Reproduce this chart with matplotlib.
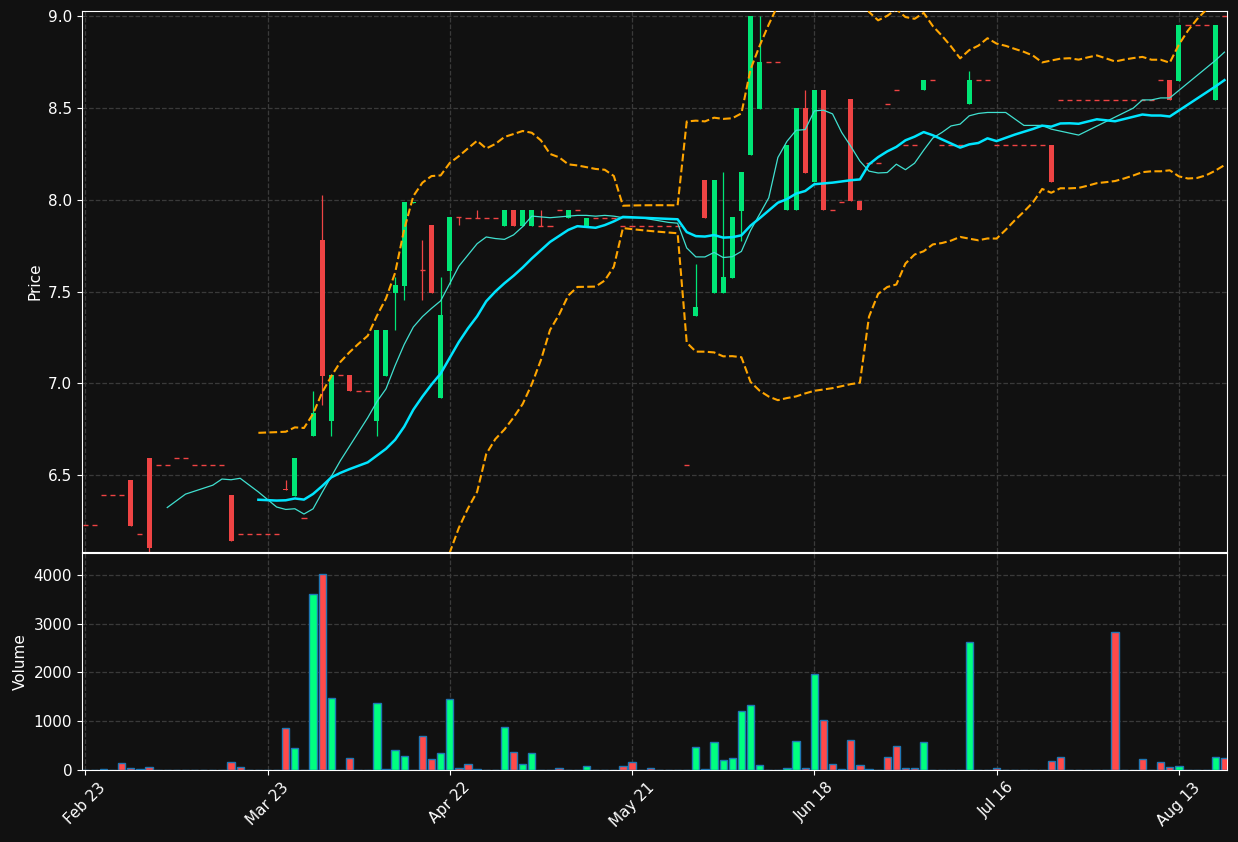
import matplotlib
matplotlib.use("Agg")
import matplotlib.pyplot as plt
import numpy as np
import pandas as pd

# ---------------------------------------------------------------------------
# Data (one entry per trading day)
# ---------------------------------------------------------------------------

opens = [
    6.225, 6.225, 6.39, 6.39, 6.39, 6.474, 6.18, 6.59, 6.553, 6.553,
    6.59, 6.59, 6.553, 6.553, 6.553, 6.553, 6.392, 6.18, 6.18, 6.18,
    6.18, 6.18, 6.425, 6.386, 6.265, 6.714, 7.78, 6.795, 7.045, 7.045,
    6.96, 6.96, 6.795, 7.042, 7.494, 7.532, 7.985, 7.617, 7.862, 6.917,
    7.614, 7.905, 7.903, 7.903, 7.903, 7.903, 7.86, 7.945, 7.86, 7.86,
    7.86, 7.86, 7.945, 7.903, 7.945, 7.86, 7.903, 7.903, 7.903, 7.86,
    7.86, 7.86, 7.86, 7.86, 7.86, 7.86, 6.553, 7.367, 8.108, 7.494,
    7.494, 7.574, 7.94, 8.246, 8.496, 8.75, 8.75, 7.945, 7.945, 8.50,
    8.095, 8.60, 7.946, 7.99, 8.549, 7.994, 8.2, 8.2, 8.524, 8.60,
    8.30, 8.30, 8.60, 8.653, 8.30, 8.30, 8.30, 8.524, 8.653, 8.653,
    8.30, 8.30, 8.30, 8.30, 8.30, 8.30, 8.30, 8.545, 8.545, 8.545,
    8.545, 8.545, 8.545, 8.545, 8.545, 8.545, 8.545, 8.545, 8.653, 8.653,
    8.648, 8.953, 8.953, 8.953, 8.545, 9.0,
]
closes = [
    6.225, 6.225, 6.39, 6.39, 6.39, 6.22, 6.18, 6.10, 6.553, 6.553,
    6.59, 6.59, 6.553, 6.553, 6.553, 6.553, 6.142, 6.18, 6.18, 6.18,
    6.18, 6.18, 6.42, 6.591, 6.265, 6.837, 7.042, 7.045, 7.045, 6.96,
    6.96, 6.96, 7.29, 7.29, 7.536, 7.989, 7.99, 7.615, 7.494, 7.371,
    7.905, 7.904, 7.903, 7.903, 7.903, 7.903, 7.945, 7.86, 7.945, 7.945,
    7.86, 7.86, 7.945, 7.945, 7.945, 7.903, 7.903, 7.903, 7.903, 7.86,
    7.86, 7.86, 7.86, 7.86, 7.86, 7.86, 6.553, 7.415, 7.90, 8.108,
    7.58, 7.905, 8.15, 9.0, 8.75, 8.75, 8.75, 8.30, 8.50, 8.146,
    8.60, 7.945, 7.946, 7.99, 7.994, 7.945, 8.2, 8.2, 8.524, 8.60,
    8.30, 8.30, 8.653, 8.653, 8.30, 8.30, 8.30, 8.653, 8.653, 8.653,
    8.30, 8.30, 8.30, 8.30, 8.30, 8.30, 8.097, 8.545, 8.545, 8.545,
    8.545, 8.545, 8.545, 8.545, 8.545, 8.545, 8.545, 8.545, 8.653, 8.545,
    8.953, 8.953, 8.953, 8.953, 8.953, 9.0,
]
# wicks that stick out of the body (index -> price)
wick_highs = {22: 6.47, 25: 6.96, 26: 8.025, 34: 7.58, 37: 7.78, 39: 7.58,
              43: 7.945, 50: 7.945, 67: 7.65, 70: 8.15, 74: 9.0, 79: 8.60, 97: 8.70}
wick_lows = {7: 6.08, 26: 6.88, 27: 6.714, 32: 6.714, 34: 7.29, 35: 7.453,
             37: 7.453, 40: 7.54, 41: 7.862, 72: 7.773}

volumes = [
    0, 0, 20, 0, 150, 40, 20, 60, 0, 0,
    0, 0, 0, 0, 0, 0, 165, 60, 0, 0,
    0, 0, 860, 450, 10, 3600, 4030, 1480, 0, 250,
    0, 0, 1380, 20, 420, 280, 0, 700, 230, 340,
    1450, 40, 123, 20, 0, 0, 880, 360, 120, 340,
    0, 0, 40, 0, 0, 85, 0, 0, 0, 85,
    170, 10, 40, 0, 10, 0, 10, 480, 20, 570,
    210, 250, 1220, 1340, 105, 0, 0, 40, 590, 40,
    1960, 1030, 125, 20, 610, 105, 20, 0, 275, 485,
    40, 40, 570, 0, 0, 0, 0, 2620, 0, 0,
    40, 0, 0, 0, 0, 0, 190, 275, 0, 0,
    0, 0, 0, 2830, 0, 0, 230, 0, 170, 60,
    85, 0, 0, 0, 275, 250,
]

tick_labels = ["Feb 23", "Mar 23", "Apr 22", "May 21", "Jun 18", "Jul 16", "Aug 13"]
TICK_EVERY = 20

# ---------------------------------------------------------------------------
# Derived series
# ---------------------------------------------------------------------------

o = np.array(opens)
c = np.array(closes)
v = np.array(volumes)
x = np.arange(len(c))
hi = np.maximum(o, c)
lo = np.minimum(o, c)
for i, val in wick_highs.items():
    hi[i] = val
for i, val in wick_lows.items():
    lo[i] = val

s = pd.Series(c)
ma10 = s.rolling(10).mean()
ma20 = s.rolling(20).mean()
sd20 = s.rolling(20).std()
upper = ma20 + 2 * sd20
lower = ma20 - 2 * sd20

up = c > o
CANDLE_UP, CANDLE_DN = "#00e676", "#ef4444"
VOL_UP, VOL_DN = "#00ff80", "#ff4a4a"
BG = "#111111"

# ---------------------------------------------------------------------------
# Figure
# ---------------------------------------------------------------------------

fig = plt.figure(figsize=(12.38, 8.42), dpi=100, facecolor=BG)
ax = fig.add_axes([0.0662, 0.3444, 0.9249, 0.6426])
axv = fig.add_axes([0.0662, 0.0855, 0.9249, 0.2577], sharex=ax)

for a in (ax, axv):
    a.set_facecolor(BG)
    for sp in a.spines.values():
        sp.set_color("white")
    a.tick_params(colors="white", labelsize=11)
    a.grid(True, color="#3a3a3a", linestyle="--", linewidth=0.9)
    a.set_axisbelow(True)

# candles
cols = np.where(up, CANDLE_UP, CANDLE_DN)
ax.vlines(x, lo, hi, colors=cols, linewidth=0.9, zorder=2)
body = np.abs(c - o)
flat = body < 0.003
ax.bar(x[~flat], body[~flat], bottom=np.minimum(o, c)[~flat],
       width=0.55, color=cols[~flat], zorder=3)
ax.hlines(c[flat], x[flat] - 0.28, x[flat] + 0.28, colors=cols[flat], linewidth=1.0, zorder=3)

ax.plot(x, upper, color="#ffa500", linestyle="--", linewidth=1.5, zorder=4)
ax.plot(x, lower, color="#ffa500", linestyle="--", linewidth=1.5, zorder=4)
ax.plot(x, ma10, color="#40e0d0", linewidth=0.9, zorder=4)
ax.plot(x, ma20, color="#00e5ff", linewidth=1.8, zorder=4)

ax.set_ylim(6.08, 9.03)
ax.set_yticks([6.5, 7.0, 7.5, 8.0, 8.5, 9.0])
ax.set_ylabel("Price", color="white", fontsize=11)
ax.tick_params(axis="x", labelbottom=False, length=0)

# volume
vcols = np.where(up, VOL_UP, VOL_DN)
axv.bar(x, v, width=0.8, color=vcols, edgecolor="#1f77b4", linewidth=1.0, zorder=3)
axv.set_ylim(0, 4450)
axv.set_yticks([0, 1000, 2000, 3000, 4000])
axv.set_ylabel("Volume", color="white", fontsize=11)

ticks = np.arange(0, len(c), TICK_EVERY)
axv.set_xticks(ticks)
axv.set_xticklabels(tick_labels, rotation=45, ha="center")
axv.set_xlim(-0.36, len(c) - 0.72)

fig.savefig("out.png", dpi=100, facecolor=BG)
